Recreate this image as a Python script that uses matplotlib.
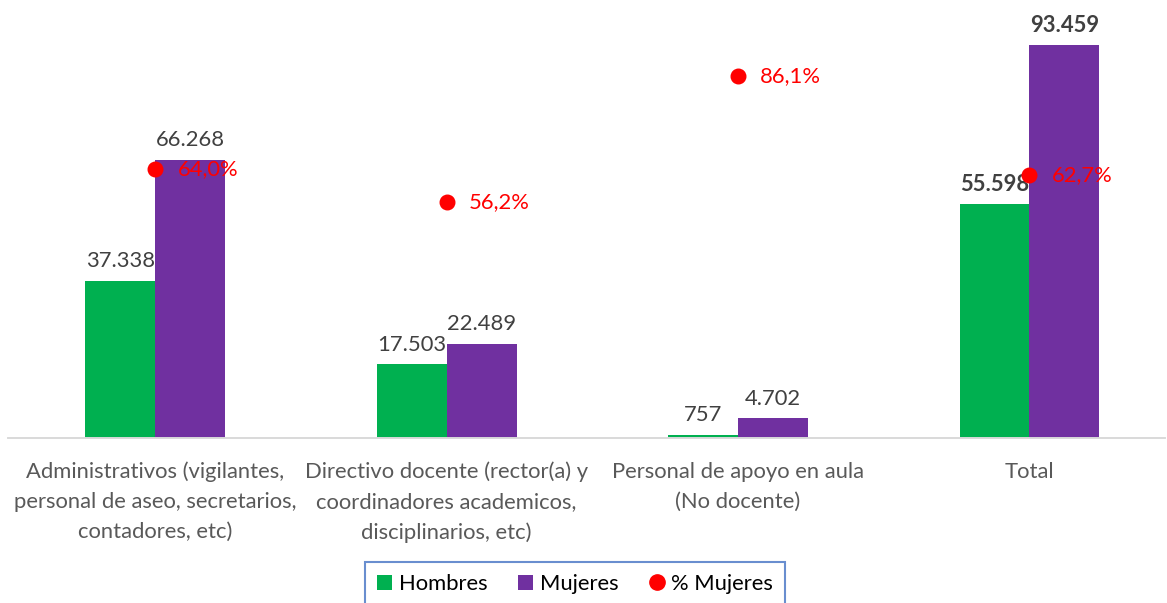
import numpy as np
import matplotlib.pyplot as plt
from matplotlib.lines import Line2D
from matplotlib.patches import Patch

plt.rcParams['font.family'] = ['Lato', 'DejaVu Sans']

categorias = [
    "Administrativos (vigilantes,\npersonal de aseo, secretarios,\ncontadores, etc)",
    "Directivo docente (rector(a) y\ncoordinadores academicos,\ndisciplinarios, etc)",
    "Personal de apoyo en aula\n(No docente)",
    "Total",
]
hombres = [37338, 17503, 757, 55598]
mujeres = [66268, 22489, 4702, 93459]
pct_mujeres = [0.640, 0.562, 0.861, 0.627]

verde = '#00B050'
morado = '#7030A0'
rojo = '#FF0000'
gris = '#404040'
fs = 15.8

fig = plt.figure(figsize=(11.67, 6.03), dpi=100)
ax = fig.add_axes([8 / 1167, 165 / 603, 1157 / 1167, 420 / 603])
ax2 = ax.twinx()

x = np.arange(len(categorias))
w = 0.24
ax.bar(x - w / 2, hombres, w, color=verde, label='Hombres')
ax.bar(x + w / 2, mujeres, w, color=morado, label='Mujeres')

ax.set_xlim(-0.505, 3.465)
ax.set_ylim(0, 100000)
ax2.set_ylim(0, 1)

def fmt(v):
    return f"{v:,}".replace(",", ".")

for i, (h, m) in enumerate(zip(hombres, mujeres)):
    bold = 'bold' if i == len(categorias) - 1 else 'normal'
    ax.annotate(fmt(h), (x[i] - w / 2, h), xytext=(0, 7), textcoords='offset points',
                ha='center', va='bottom', fontsize=fs, color=gris, fontweight=bold)
    ax.annotate(fmt(m), (x[i] + w / 2, m), xytext=(0, 7), textcoords='offset points',
                ha='center', va='bottom', fontsize=fs, color=gris, fontweight=bold)

ax2.scatter(x, pct_mujeres, s=110, color=rojo, zorder=5, label='% Mujeres')
for i, p in enumerate(pct_mujeres):
    ax2.annotate(f"{p * 100:.1f}%".replace(".", ","), (x[i], p), xytext=(16, 0),
                 textcoords='offset points', ha='left', va='center',
                 fontsize=fs, color=rojo)

ax.set_xticks(x)
ax.set_xticklabels(categorias, fontsize=fs, color='#595959', linespacing=1.62)
ax.tick_params(axis='x', length=0, pad=17)
ax.set_yticks([])
ax2.set_yticks([])
for a in (ax, ax2):
    for s in ('top', 'left', 'right'):
        a.spines[s].set_visible(False)
    a.spines['bottom'].set_color('#D9D9D9')
    a.spines['bottom'].set_linewidth(1.2)

handles = [
    Patch(facecolor=verde, label='Hombres'),
    Patch(facecolor=morado, label='Mujeres'),
    Line2D([], [], marker='o', linestyle='none', color=rojo, markersize=11, label='% Mujeres'),
]
leg = fig.legend(handles=handles, loc='center', bbox_to_anchor=(575 / 1167, 1 - 584 / 603),
                 ncol=3, frameon=True, fontsize=fs, handlelength=0.7, handleheight=0.7,
                 handletextpad=0.3, columnspacing=1.4, borderpad=0.55, borderaxespad=0,
                 fancybox=False)
leg.get_frame().set_edgecolor('#4472C4')
leg.get_frame().set_linewidth(1.5)

fig.savefig('out.png', dpi=100)
